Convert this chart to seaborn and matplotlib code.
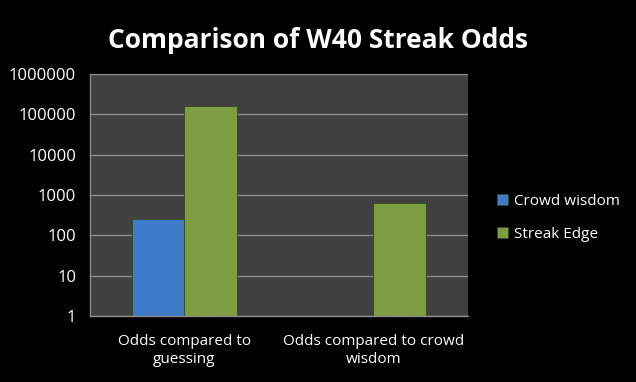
import matplotlib
matplotlib.use("Agg")
import matplotlib.pyplot as plt
import numpy as np
import pandas as pd
import seaborn as sns

categories = ["Odds compared to\nguessing", "Odds compared to crowd\nwisdom"]
series = ["Crowd wisdom", "Streak Edge"]
crowd_wisdom = [250, np.nan]
streak_edge = [165000, 625]
ytick_values = [1, 10, 100, 1000, 10000, 100000, 1000000]
ytick_labels = ["1", "10", "100", "1000", "10000", "100000", "1000000"]

df = pd.DataFrame({
    "category": categories * 2,
    "series": [series[0]] * 2 + [series[1]] * 2,
    "value": crowd_wisdom + streak_edge,
})

sns.set_theme(style="dark")
plt.rcParams["font.family"] = ["Open Sans", "DejaVu Sans"]

fig = plt.figure(figsize=(6.36, 3.82), dpi=100, facecolor="black")
ax = fig.add_axes([0.1415, 0.1728, 0.5943, 0.6335])
ax.set_facecolor("#404040")

sns.barplot(data=df, x="category", y="value", hue="series", hue_order=series,
            order=categories, palette=["#3f7bc9", "#7e9c41"], saturation=1,
            width=0.56, edgecolor="#334a1c", linewidth=0.6, ax=ax)

ax.set_yscale("log")
ax.set_ylim(1, 1000000)
ax.set_xlim(-0.5, 1.5)
ax.set_yticks(ytick_values, ytick_labels)
ax.yaxis.set_minor_locator(matplotlib.ticker.NullLocator())
ax.grid(axis="y", color="#8c8c8c", linewidth=1)
ax.grid(axis="x", visible=False)
ax.set_axisbelow(True)

ax.set_xticks([0, 1], categories)
ax.set_xticks([-0.5, 0.5, 1.5], minor=True)
for lbl in ax.get_xticklabels():
    lbl.set_linespacing(1.3)
ax.tick_params(axis="x", which="major", length=0, pad=13, colors="white", labelsize=11)
ax.tick_params(axis="x", which="minor", length=5, color="#8c8c8c", width=1)
ax.tick_params(axis="y", length=5, color="#8c8c8c", width=1, colors="white",
               labelsize=12, pad=5)
ax.set_xlabel("")
ax.set_ylabel("")

for side in ["top", "right"]:
    ax.spines[side].set_visible(False)
for side in ["left", "bottom"]:
    ax.spines[side].set_visible(True)
    ax.spines[side].set_color("#8c8c8c")
    ax.spines[side].set_linewidth(1)

leg = ax.legend(loc="center left", bbox_to_anchor=(1.04, 0.405), frameon=False,
                fontsize=11, handlelength=0.7, handleheight=0.7,
                handletextpad=0.4, labelspacing=1.2)
for t in leg.get_texts():
    t.set_color("white")

fig.text(0.5, 0.895, "Comparison of W40 Streak Odds", color="white",
         fontsize=19, fontweight="bold", ha="center", va="center")

fig.savefig("out.png", dpi=100, facecolor="black")
